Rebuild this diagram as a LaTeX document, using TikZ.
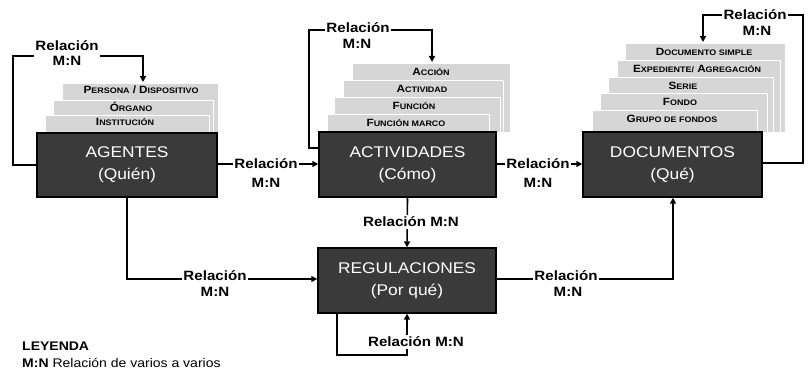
\documentclass[tikz,border=0pt]{standalone}
\usepackage{fontspec}
\setmainfont{Liberation Sans}[FakeStretch=1.12]
\usetikzlibrary{arrows.meta,calc}
\definecolor{boxgray}{HTML}{3A3A3A}
\definecolor{sheetgray}{HTML}{D6D6D6}
\newcommand\scw[2]{{\fontsize{10.5}{10.5}\selectfont #1}{\fontsize{8}{8}\selectfont #2}}
\begin{document}
\begin{tikzpicture}[x=1pt,y=-1pt,
  mainbox/.style={draw=black,line width=1.4pt,fill=boxgray,text=white,
    font=\fontsize{15.5}{22}\selectfont,align=center,inner sep=0pt},
  sheet/.style={fill=sheetgray,draw=white,line width=0.8pt},
  layertext/.style={font=\bfseries,inner sep=0pt,text=black},
  rel/.style={font=\bfseries\fontsize{13.5}{15}\selectfont,fill=white,inner sep=1.5pt,align=center},
  relnf/.style={font=\bfseries\fontsize{13.5}{15}\selectfont,inner sep=1.5pt,align=center},
  conn/.style={line width=1.6pt,-{Triangle[length=6pt,width=6pt]}}]
\useasboundingbox (0,0) rectangle (810,371);

% ---- AGENTES sheets
\path[sheet] (62,83) rectangle (218,133);
\path[sheet] (53,100) rectangle (213,133);
\path[sheet] (45,115) rectangle (209,133);
\node[layertext] (l1) at (141,90) {\scw{P}{ERSONA} \scw{/}{} \scw{D}{ISPOSITIVO}};
\node[layertext] (l2) at (131,107) {\scw{Ó}{RGANO}};
\node[layertext] (l3) at (125,122) {\scw{I}{NSTITUCIÓN}};

% ---- ACTIVIDADES sheets
\path[sheet] (352,63) rectangle (510,132);
\path[sheet] (343,80) rectangle (503,132);
\path[sheet] (334,97) rectangle (500,132);
\path[sheet] (327,114) rectangle (489,132);
\node[layertext] (a1) at (431,72) {\scw{A}{CCIÓN}};
\node[layertext] (a2) at (422,89) {\scw{A}{CTIVIDAD}};
\node[layertext] (a3) at (414,106) {\scw{F}{UNCIÓN}};
\node[layertext] (a4) at (406,123) {\scw{F}{UNCIÓN MARCO}};

% ---- DOCUMENTOS sheets
\path[sheet] (625,43) rectangle (785,132);
\path[sheet] (617,60) rectangle (780,132);
\path[sheet] (608,77) rectangle (773,132);
\path[sheet] (600,93) rectangle (767,132);
\path[sheet] (592,110) rectangle (757,132);
\node[layertext] (d1) at (704,52) {\scw{D}{OCUMENTO SIMPLE}};
\node[layertext] (d2) at (697,69) {\scw{E}{XPEDIENTE/} \scw{A}{GREGACIÓN}};
\node[layertext] (d3) at (683,86) {\scw{S}{ERIE}};
\node[layertext] (d4) at (680,102) {\scw{F}{ONDO}};
\node[layertext] (d5) at (672,119) {\scw{G}{RUPO DE FONDOS}};

% ---- main boxes
\node[mainbox,minimum width=180pt,minimum height=64pt] (ag) at (127,165) {AGENTES\\(Quién)};
\node[mainbox,minimum width=177pt,minimum height=65pt] (act) at (407.5,164.5) {ACTIVIDADES\\(Cómo)};
\node[mainbox,minimum width=179pt,minimum height=65pt] (doc) at (672.5,164.5) {DOCUMENTOS\\(Qué)};
\node[mainbox,minimum width=178pt,minimum height=65pt] (reg) at (407,280.5) {REGULACIONES\\(Por qué)};

% ---- helper coordinates
\coordinate (agtop) at (143,82);
\coordinate (acttop) at (432,62);
\coordinate (doctop) at (703,42);

% ---- connectors
\draw[conn] (ag.west) -- (13,165) -- (13,56) -- (143,56) -- (agtop);
\draw[conn] (ag.east |- 0,164) -- (act.west |- 0,164);
\draw[conn] (act.west |- 0,148) -- (309,148) -- (309,30) -- (432,30) -- (acttop);
\draw[conn] (act.east |- 0,164) -- (doc.west |- 0,164);
\draw[conn] (doc.east |- 0,163) -- (803,163) -- (803,15) -- (703,15) -- (doctop);
\draw[conn] (act.south) -- (reg.north);
\draw[conn] (ag.south) -- (127,279) -- (reg.west |- 0,279);
\draw[conn] (reg.south -| 337,0) -- (337,355) -- (407,355) -- (reg.south);
\draw[conn] (reg.east |- 0,279) -- (673,279) -- (doc.south -| 673,0);

% ---- labels
\node[rel] (r1) at (67,53) {Relación\\M:N};
\node[rel] (r2) at (266,164) {Relación};
\node[relnf] (r2b) at (266,183) {M:N};
\node[rel] (r3) at (358,28) {Relación};
\node[relnf] (r3b) at (357,44) {M:N};
\node[rel] (r4) at (538,164) {Relación};
\node[relnf] (r4b) at (538,183) {M:N};
\node[rel] (r5) at (755,15) {Relación};
\node[relnf] (r5b) at (757,31) {M:N};
\node[rel] (r6) at (411,222) {Relación M:N};
\node[rel] (r7) at (215,276) {Relación};
\node[relnf] (r7b) at (215,292) {M:N};
\node[rel] (r8) at (416,342) {Relación M:N};
\node[rel] (r9) at (566,276) {Relación};
\node[relnf] (r9b) at (568,292) {M:N};

% ---- legend
\node[anchor=west,inner sep=0pt,font=\bfseries\fontsize{12.5}{13}\selectfont] (ley) at (22,346) {LEYENDA};
\node[anchor=west,inner sep=0pt,font=\fontsize{12.5}{13}\selectfont] (ley2) at (22,363) {\textbf{M:N} Relación de varios a varios};
\end{tikzpicture}
\end{document}
